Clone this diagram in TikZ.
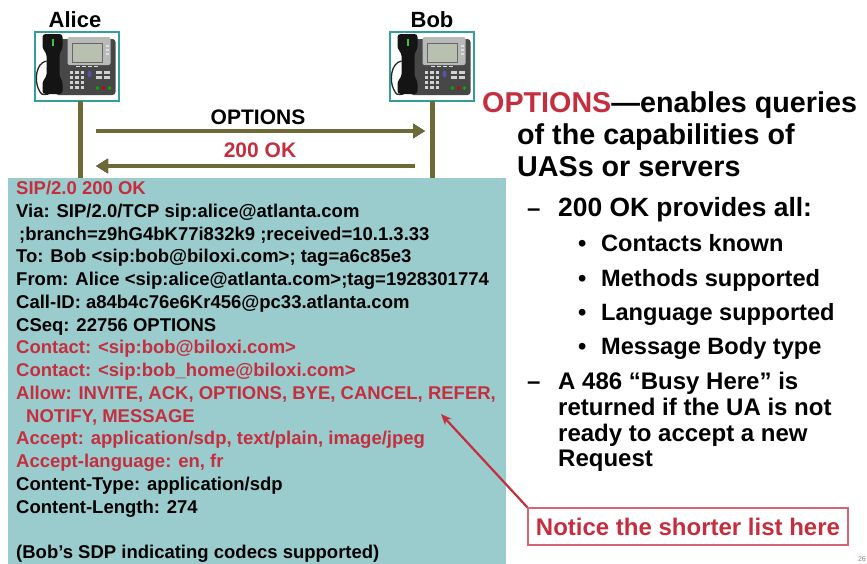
\documentclass[tikz,border=0pt]{standalone}
\usepackage{fontspec}
\setmainfont{Liberation Sans}
\usetikzlibrary{arrows.meta,calc,positioning}

\definecolor{olivearrow}{RGB}{110,106,56}
\definecolor{sipred}{RGB}{196,46,62}
\definecolor{boxteal}{RGB}{155,204,205}
\definecolor{frameteal}{RGB}{52,158,156}
\definecolor{noticeline}{RGB}{214,100,116}
\definecolor{phonescreen}{RGB}{184,192,176}

\tikzset{
  phonebox/.style={draw=frameteal, line width=2pt, fill=white,
    minimum width=84pt, minimum height=69pt, inner sep=0pt},
  namelabel/.style={font=\fontsize{22}{24}\selectfont\bfseries, anchor=base},
  lifeline/.style={line width=5pt, draw=olivearrow},
  lifeshadow/.style={line width=5pt, draw=black, xshift=1pt},
  msgarrow/.style={line width=3.5pt, draw=olivearrow, -{Triangle[length=12pt,width=14pt]}},
  msgshadow/.style={msgarrow, draw=black, xshift=.8pt, yshift=-1.3pt},
  arrowlabel/.style={font=\fontsize{21}{24}\selectfont\bfseries, anchor=base},
  msgtext/.style={font=\fontsize{18.5}{22.75}\selectfont\bfseries, align=left, inner sep=0pt},
  headline/.style={font=\fontsize{28.7}{32}\selectfont\bfseries, anchor=base west, inner sep=0pt},
  subline/.style={font=\fontsize{24}{26}\selectfont\bfseries, anchor=base west, inner sep=0pt},
  bulletline/.style={font=\fontsize{23.6}{26}\selectfont\bfseries, anchor=base west, inner sep=0pt},
  noticebox/.style={draw=noticeline, line width=1.3pt, text=sipred,
    font=\fontsize{24}{26}\selectfont\bfseries, minimum width=320pt, minimum height=37pt, inner sep=0pt},
}

% telefono disegnato a partire dall'angolo in alto a sinistra del riquadro
\newcommand{\deskphone}[1]{%
  \begin{scope}[shift={(#1)}]
    % corpo
    \fill[black!72, rounded corners=3pt] (22,8) rectangle (82,64);
    \fill[gray!55, rounded corners=2pt] (34,6) rectangle (77,34);
    \fill[phonescreen] (39,12) rectangle (69,31);
    \draw[black!60, line width=.4pt] (39,12) rectangle (69,31);
    \foreach \yy in {14,18,22} \fill[gray!25] (72,\yy) rectangle +(3,2);
    \foreach \xx in {42,48,54,60} \fill[gray!25] (\xx,35) rectangle +(4,1.2);
    % tastiera
    \foreach \cc in {0,1,2}
      \foreach \rr in {0,1,2,3}
        \fill[gray!35] (36+\cc*5.5,40+\rr*5) rectangle +(3.5,2.6);
    \fill[blue!35!gray] (56,43) ellipse (2pt and 3.5pt);
    \foreach \xx in {62,70}
      \foreach \yy in {40,45} \fill[gray!35] (\xx,\yy) rectangle +(6,2.5);
    \fill[green!70!black] (64,57) circle (1.9pt);
    \fill[red!80!black] (70,57) circle (1.9pt);
    \fill[green!70!black] (76,57) circle (1.9pt);
    % cornetta e filo
    \draw[black!85, line width=1.3pt] (13,30) .. controls (2,32) and (1,50) .. (5,58)
      .. controls (8,64) .. (15,63);
    \fill[black!92, rounded corners=3pt] (9,3) -- (29,3) -- (29,18) -- (26,22) -- (26,46)
      -- (29,50) -- (29,63) -- (9,63) -- (9,50) -- (13,46) -- (13,22) -- (9,18) -- cycle;
    \fill[green!55!gray] (18,8) rectangle (20.5,15);
  \end{scope}}

\begin{document}
\begin{tikzpicture}[x=1pt, y=-1pt]
  \useasboundingbox (0,0) rectangle (867,563);

  % Telefoni
  \node[phonebox] (alice) at (76.5,66.5) {};
  \node[phonebox] (bob) at (431.5,66.5) {};
  \deskphone{alice.north west}
  \deskphone{bob.north west}
  \node[namelabel] (alicename) at (75,27) {Alice};
  \node[namelabel] (bobname) at (432,27) {Bob};

  % Linee verticali
  \coordinate (aTop) at (80,101);
  \coordinate (aBot) at (80,182);
  \coordinate (bTop) at (432,101);
  \coordinate (bBot) at (432,182);
  \draw[lifeshadow] (aTop) -- (aBot);
  \draw[lifeline] (aTop) -- (aBot);
  \draw[lifeshadow] (bTop) -- (bBot);
  \draw[lifeline] (bTop) -- (bBot);

  % Messaggi
  \coordinate (opFrom) at (96,131);
  \coordinate (opTo) at (425,131);
  \coordinate (okFrom) at (415,166);
  \coordinate (okTo) at (96,166);
  \draw[msgshadow] (opFrom) -- (opTo);
  \draw[msgarrow] (opFrom) -- (opTo);
  \draw[msgshadow] (okFrom) -- (okTo);
  \draw[msgarrow] (okFrom) -- (okTo);
  \node[arrowlabel] (oplabel) at (258,124.5) {OPTIONS};
  \node[arrowlabel, text=sipred] (oklabel) at (260,157.5) {200 OK};

  % Risposta 200 OK
  \fill[boxteal] (8,178) rectangle (506,570);
  \node[msgtext, anchor=north west] (msg) at (16,181) {%
    \textcolor{sipred}{SIP/2.0 200 OK}\\
    Via: SIP/2.0/TCP sip:alice@atlanta.com\\
    \hspace*{3pt};branch=z9hG4bK77i832k9 ;received=10.1.3.33\\
    To: Bob <sip:bob@biloxi.com>; tag=a6c85e3\\
    From: Alice <sip:alice@atlanta.com>;tag=1928301774\\
    Call-ID: a84b4c76e6Kr456@pc33.atlanta.com\\
    CSeq: 22756 OPTIONS\\
    \textcolor{sipred}{Contact: <sip:bob@biloxi.com>}\\
    \textcolor{sipred}{Contact: <sip:bob\_home@biloxi.com>}\\
    \textcolor{sipred}{Allow: INVITE, ACK, OPTIONS, BYE, CANCEL, REFER,}\\
    \textcolor{sipred}{\hspace*{10pt}NOTIFY, MESSAGE}\\
    \textcolor{sipred}{Accept: application/sdp, text/plain, image/jpeg}\\
    \textcolor{sipred}{Accept-language: en, fr}\\
    Content-Type: application/sdp\\
    Content-Length: 274\\
    \mbox{}\\
    (Bob’s SDP indicating codecs supported)};

  % Testo a destra
  \node[headline] (title1) at (482,112.7) {\textcolor{sipred}{OPTIONS}—enables queries};
  \node[headline] (title2) at (517,144.5) {of the capabilities of};
  \node[headline] (title3) at (517,176.5) {UASs or servers};
  \node[subline] (dash1) at (527,216.7) {–};
  \node[subline, font=\fontsize{26.4}{28}\selectfont\bfseries] (sub1) at (558,216.7) {200 OK provides all:};
  \foreach \yy/\txt [count=\i] in {251.7/Contacts known, 286/Methods supported,
      320/Language supported, 354/Message Body type} {
    \node[bulletline] (dot\i) at (578,\yy) {•};
    \node[bulletline] (item\i) at (601,\yy) {\txt};
  }
  \node[subline] (dash2) at (527,389) {–};
  \node[subline] (sub2a) at (558,389) {A 486 “Busy Here” is};
  \node[subline] (sub2b) at (558,415) {returned if the UA is not};
  \node[subline] (sub2c) at (558,441) {ready to accept a new};
  \node[subline] (sub2d) at (558,466) {Request};

  % Nota con freccia
  \node[noticebox] (notice) at (688,526.5) {Notice the shorter list here};
  \coordinate (allowTip) at (441,414);
  \draw[sipred, line width=2.2pt, -{Stealth[length=11pt,width=9pt]}] (notice.north west) -- (allowTip);

  \node[font=\fontsize{7}{8}\selectfont, text=gray, anchor=south east, inner sep=1pt] (pagenum) at (867,563) {26};
\end{tikzpicture}
\end{document}
